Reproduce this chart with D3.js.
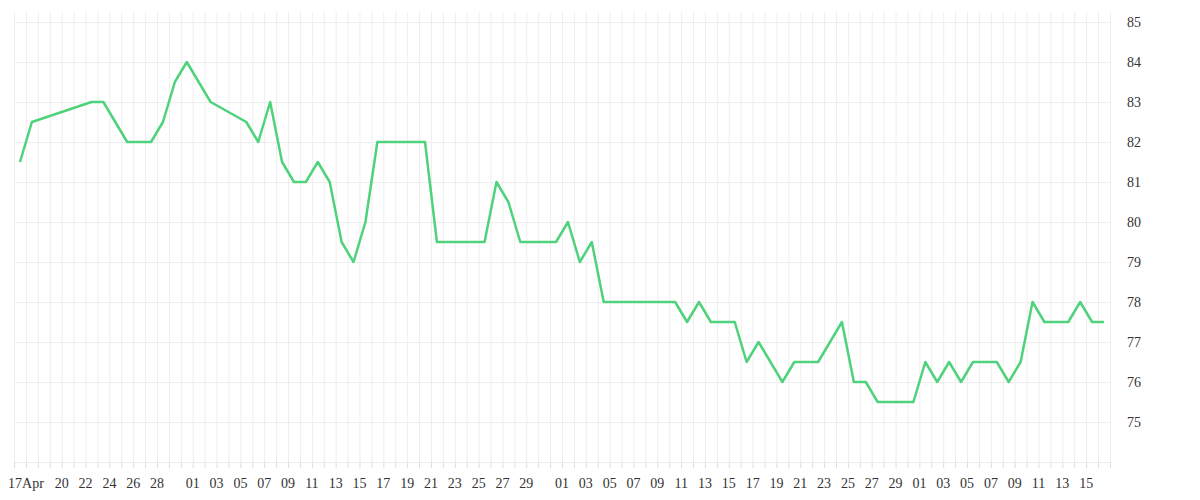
<!DOCTYPE html><html><head><meta charset="utf-8"><script src="https://d3js.org/d3.v7.min.js"></script>
<style>body{margin:0;background:#fff}</style></head><body><svg id="c" width="1200" height="500"></svg>
<script>
const dayIndex=[0,1,6,7,9,11,12,13,14,16,19,20,21,22,23,24,25,26,27,28,29,30,34,35,39,40,41,42,45,46,47,48,49,55,56,57,58,60,61,62,64,65,67,69,70,71,72,75,76,77,78,79,80,82,83,84,85,86,88,89,90,91];
const values=[81.5,82.5,83,83,82,82,82.5,83.5,84,83,82.5,82,83,81.5,81,81,81.5,81,79.5,79,80,82,82,79.5,79.5,81,80.5,79.5,79.5,80,79,79.5,78,78,77.5,78,77.5,77.5,76.5,77,76,76.5,76.5,77.5,76,76,75.5,75.5,76.5,76,76.5,76,76.5,76.5,76,76.5,78,77.5,77.5,78,77.5,77.5];
const yTicks=[75,76,77,78,79,80,81,82,83,84,85];
const start=new Date(2023,3,17);
const svg=d3.select("#c");
const x=d3.scaleLinear().domain([0,91]).range([20,1104]);
const y=d3.scaleLinear().domain([74,85.25]).range([462,12]);
const g=svg.append("g");
// vertical grid
const gridDays=d3.range(-0.5,92,1);
g.selectAll(".vg").data(gridDays).join("line").attr("x1",d=>x(d)+0.5).attr("x2",d=>x(d)+0.5).attr("y1",12).attr("y2",462).attr("stroke","#eeeeee");
g.selectAll(".hg").data(d3.range(74,86,1)).join("line").attr("x1",x(-0.5)).attr("x2",x(91.5)).attr("y1",d=>Math.round(y(d))+0.5).attr("y2",d=>Math.round(y(d))+0.5).attr("stroke","#eeeeee");
g.selectAll(".tk").data(gridDays).join("line").attr("x1",d=>x(d)+0.5).attr("x2",d=>x(d)+0.5).attr("y1",462).attr("y2",468).attr("stroke","#dddddd");
// x labels
const labels=[];
for(let d=0;d<=91;d++){const dt=new Date(start);dt.setDate(dt.getDate()+d);const dd=dt.getDate();
 if(d===0)labels.push({d,t:"17Apr"});
 else if(dd%2===0&&dt.getMonth()===3&&dd>=20&&dd<=28)labels.push({d,t:String(dd)});
 else if(dt.getMonth()>=4&&dd%2===1&&dd!==31&&d<=89)labels.push({d,t:String(dd).padStart(2,"0")});}
g.selectAll(".xl").data(labels).join("text").attr("x",l=>l.d===0?x(0)+6:x(l.d)+6).attr("y",488).attr("text-anchor","middle")
 .attr("font-family","Liberation Serif, serif").attr("font-size",14).attr("fill","#333").text(l=>l.t);
g.selectAll(".yl").data(yTicks).join("text").attr("x",1127).attr("y",d=>y(d)+5).attr("font-family","Liberation Serif, serif").attr("font-size",14).attr("fill","#333").text(d=>d);
svg.append("path").datum(dayIndex.map((d,i)=>[d,values[i]])).attr("fill","none").attr("stroke","#4fd27c").attr("stroke-width",2.5).attr("stroke-linejoin","round")
 .attr("d",d3.line().x(p=>x(p[0])).y(p=>y(p[1])));
</script></body></html>
